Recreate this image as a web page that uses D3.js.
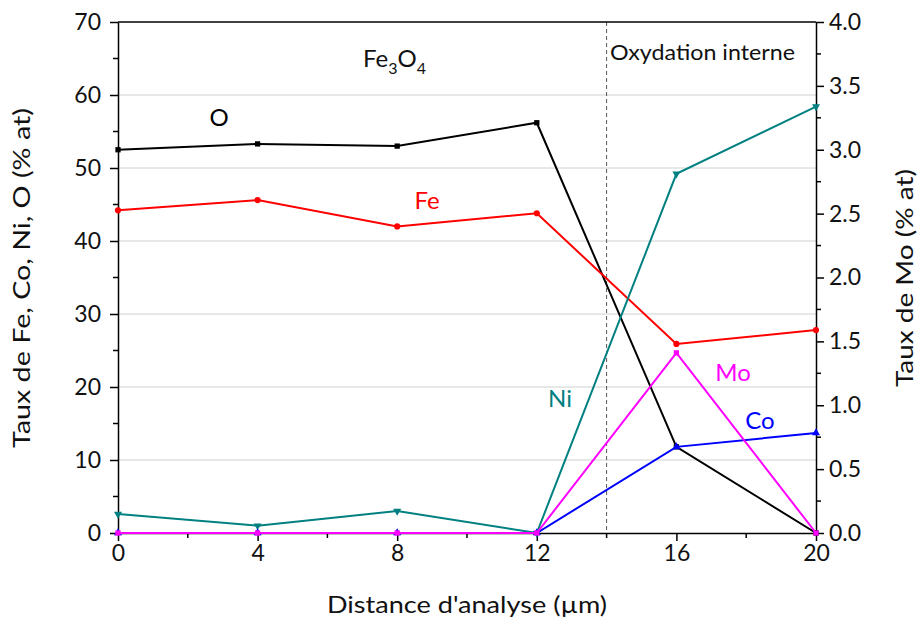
<!DOCTYPE html>
<html><head><meta charset="utf-8">
<script src="https://cdn.jsdelivr.net/npm/d3@7"></script>
<style>body{margin:0;background:#fff}svg{display:block}text{font-family:Lato,"Open Sans",sans-serif}</style>
</head><body><svg id="c" width="920" height="624"></svg>
<script>
const distances = [0, 4, 8, 12, 16, 20];
const oValues  = [52.5, 53.3, 53.0, 56.2, 11.8, 0];
const feValues = [44.2, 45.6, 42.0, 43.8, 25.9, 27.8];
const niValues = [2.6, 1.0, 3.0, 0, 49.2, 58.4];
const coValues = [0, 0, 0, 0, 11.8, 13.7];
const moValues = [0, 0, 0, 0, 1.41, 0];
const xTicks = [0, 4, 8, 12, 16, 20];
const yLeftTicks = [0, 10, 20, 30, 40, 50, 60, 70];
const yRightTicks = [0, 0.5, 1.0, 1.5, 2.0, 2.5, 3.0, 3.5, 4.0];
const boundary = 14;

const svg = d3.select("#c");
const L = 118, R = 816, T = 22, B = 533;
const x = d3.scaleLinear().domain([0, 20]).range([L, R]);
const y = d3.scaleLinear().domain([0, 70]).range([B, T]);
const y2 = d3.scaleLinear().domain([0, 4]).range([B, T]);

svg.append("g").selectAll("line").data(yLeftTicks.filter(d => d > 0 && d < 70)).join("line")
  .attr("x1", L).attr("x2", R).attr("y1", d => y(d)).attr("y2", d => y(d))
  .attr("stroke", "#d0d0d0").attr("stroke-width", 1);

svg.append("line").attr("x1", x(boundary)).attr("x2", x(boundary)).attr("y1", T).attr("y2", B)
  .attr("stroke", "#555").attr("stroke-width", 1).attr("stroke-dasharray", "4,3");

function axisStyle(g) {
  g.selectAll("path,line").attr("stroke", "#000").attr("stroke-width", 1.5);
  g.selectAll("text").attr("font-size", 23).attr("fill", "#111");
}
const minorX = d3.range(2, 20, 4);
const minorY = d3.range(5, 70, 10);
const minorY2 = d3.range(0.25, 4, 0.5);

const gx = svg.append("g").attr("transform", `translate(0,${B})`)
  .call(d3.axisBottom(x).tickValues(xTicks).tickSize(8).tickSizeOuter(0).tickPadding(4).tickFormat(d3.format("d")));
axisStyle(gx);
gx.selectAll(".minor").data(minorX).join("line").attr("x1", d => x(d)).attr("x2", d => x(d)).attr("y1", 0).attr("y2", 5).attr("stroke", "#000").attr("stroke-width", 1.5);

const gy = svg.append("g").attr("transform", `translate(${L},0)`)
  .call(d3.axisLeft(y).tickValues(yLeftTicks).tickSize(8).tickSizeOuter(0).tickPadding(9).tickFormat(d3.format("d")));
axisStyle(gy);
gy.selectAll(".minor").data(minorY).join("line").attr("y1", d => y(d)).attr("y2", d => y(d)).attr("x1", 0).attr("x2", -5).attr("stroke", "#000").attr("stroke-width", 1.5);

const gy2 = svg.append("g").attr("transform", `translate(${R},0)`)
  .call(d3.axisRight(y2).tickValues(yRightTicks).tickSize(8).tickSizeOuter(0).tickPadding(5).tickFormat(d3.format(".1f")));
axisStyle(gy2);
gy2.selectAll(".minor").data(minorY2).join("line").attr("y1", d => y2(d)).attr("y2", d => y2(d)).attr("x1", 0).attr("x2", 5).attr("stroke", "#000").attr("stroke-width", 1.5);

svg.append("line").attr("x1", L).attr("x2", R).attr("y1", T).attr("y2", T).attr("stroke", "#000").attr("stroke-width", 1.5);

const series = [
  {name: "O",  vals: oValues,  color: "#000000", sc: y,  marker: "square"},
  {name: "Fe", vals: feValues, color: "#ff0000", sc: y,  marker: "circle"},
  {name: "Ni", vals: niValues, color: "#008080", sc: y,  marker: "down"},
  {name: "Co", vals: coValues, color: "#0000ff", sc: y,  marker: "up"},
  {name: "Mo", vals: moValues, color: "#ff00ff", sc: y2, marker: "square"}
];
const symMap = {square: d3.symbolSquare, circle: d3.symbolCircle, up: d3.symbolTriangle, down: d3.symbolTriangle};
series.forEach(s => {
  const pts = distances.map((d, i) => [x(d), s.sc(s.vals[i])]);
  svg.append("path").attr("d", d3.line()(pts)).attr("fill", "none").attr("stroke", s.color).attr("stroke-width", 2);
  svg.append("g").selectAll("path").data(pts).join("path")
    .attr("transform", p => `translate(${p[0]},${p[1]})` + (s.marker === "down" ? " rotate(180)" : ""))
    .attr("d", d3.symbol().type(symMap[s.marker]).size(s.marker === "circle" ? 30 : 28))
    .attr("fill", s.color);
});

const labels = [
  {t: "O", x: 219, y: 126, c: "#000"},
  {t: "Fe", x: 427, y: 209, c: "#ff0000"},
  {t: "Ni", x: 560, y: 407, c: "#008080"},
  {t: "Mo", x: 733, y: 381, c: "#ff00ff"},
  {t: "Co", x: 760, y: 429, c: "#0000ff"}
];
svg.append("g").selectAll("text").data(labels).join("text")
  .attr("x", d => d.x).attr("y", d => d.y).attr("text-anchor", "middle")
  .attr("font-size", 24).attr("fill", d => d.c).text(d => d.t);

const fe = svg.append("text").attr("x", 363).attr("y", 67).attr("font-size", 24).attr("fill", "#111");
fe.append("tspan").text("Fe");
fe.append("tspan").attr("font-size", 16).attr("dy", 7).text("3");
fe.append("tspan").attr("dy", -7).text("O");
fe.append("tspan").attr("font-size", 16).attr("dy", 7).text("4");

svg.append("text").attr("x", 610).attr("y", 60).attr("font-size", 22).attr("fill", "#111")
  .attr("textLength", 185).attr("lengthAdjust", "spacingAndGlyphs").text("Oxydation interne");

svg.append("text").attr("x", 467).attr("y", 613).attr("text-anchor", "middle").attr("font-size", 23).attr("fill", "#111")
  .attr("textLength", 280).attr("lengthAdjust", "spacingAndGlyphs").text("Distance d'analyse (µm)");
svg.append("text").attr("transform", "translate(30,278) rotate(-90)").attr("text-anchor", "middle").attr("font-size", 23).attr("fill", "#111")
  .attr("textLength", 340).attr("lengthAdjust", "spacingAndGlyphs").text("Taux de Fe, Co, Ni, O (% at)");
svg.append("text").attr("transform", "translate(913,278) rotate(-90)").attr("text-anchor", "middle").attr("font-size", 23).attr("fill", "#111")
  .attr("textLength", 218).attr("lengthAdjust", "spacingAndGlyphs").text("Taux de Mo (% at)");
</script></body></html>
